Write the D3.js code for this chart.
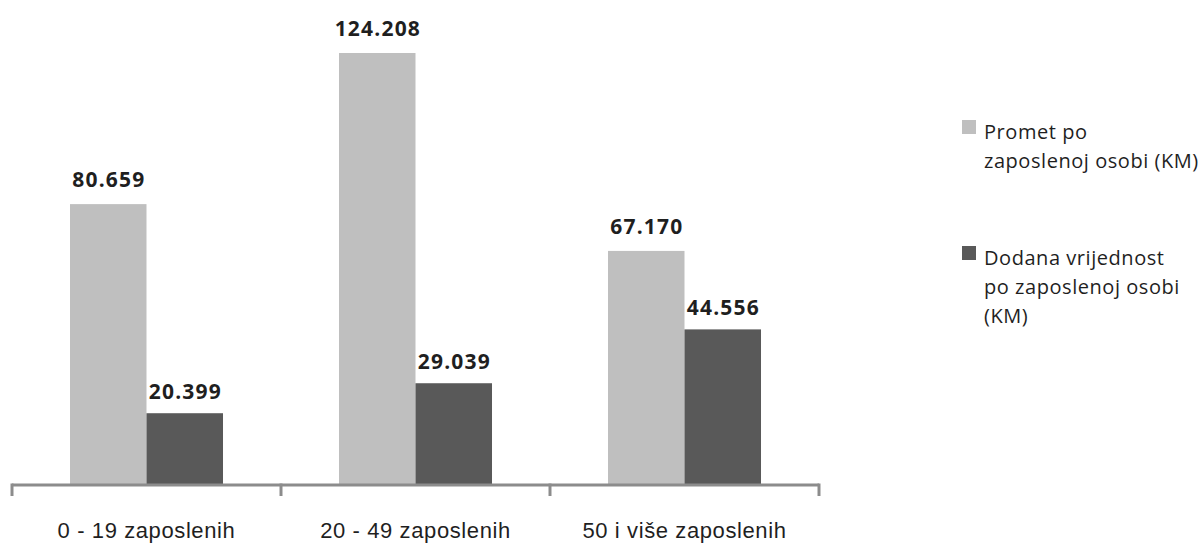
<!DOCTYPE html>
<html>
<head>
<meta charset="utf-8">
<script src="https://cdn.jsdelivr.net/npm/d3@7/dist/d3.min.js"></script>
<style>
  html, body { margin: 0; padding: 0; background: #ffffff; }
  svg { display: block; font-family: "Open Sans", sans-serif; }
</style>
</head>
<body>
<svg id="chart" width="1201" height="543"></svg>
<script>
const categories = ["0 - 19 zaposlenih", "20 - 49 zaposlenih", "50 i više zaposlenih"];
const seriesNames = ["Promet po zaposlenoj osobi (KM)", "Dodana vrijednost po zaposlenoj osobi (KM)"];
const legendLines = [["Promet po", "zaposlenoj osobi (KM)"], ["Dodana vrijednost", "po zaposlenoj osobi", "(KM)"]];
const promet = [80659, 124208, 67170];
const dodana = [20399, 29039, 44556];
const seriesColors = ["#bfbfbf", "#595959"];

const svg = d3.select("#chart");
const fmt = v => d3.format(",")(v).replace(/,/g, ".");

const x0 = d3.scaleBand().domain(categories).range([12, 819]).paddingInner(0).paddingOuter(0);
const bw = x0.bandwidth();
const x1 = d3.scaleBand().domain([0, 1]).range([bw * 0.2156, bw * 0.7844]).padding(0);
const y = d3.scaleLinear().domain([0, 140000]).range([484, 484 - 140 * 3.47]);

const data = categories.map((c, i) => ({ cat: c, vals: [promet[i], dodana[i]] }));

const groups = svg.append("g").selectAll("g").data(data).join("g")
  .attr("transform", d => `translate(${x0(d.cat)},0)`);

groups.selectAll("rect").data(d => d.vals.map((v, s) => ({ v, s }))).join("rect")
  .attr("x", d => x1(d.s))
  .attr("width", x1.bandwidth())
  .attr("y", d => y(d.v))
  .attr("height", d => y(0) - y(d.v))
  .attr("fill", d => seriesColors[d.s]);

groups.selectAll("text.val").data(d => d.vals.map((v, s) => ({ v, s }))).join("text")
  .attr("class", "val")
  .attr("x", d => x1(d.s) + x1.bandwidth() / 2 + 0.6)
  .attr("y", d => y(d.v) - (d.s === 0 ? 17 : 14))
  .attr("text-anchor", "middle")
  .attr("font-size", 21)
  .attr("font-weight", 700)
  .attr("letter-spacing", 1.2)
  .attr("fill", "#1f1f1f")
  .text(d => fmt(d.v));

// axis
const axis = d3.axisBottom(x0).tickSize(0).tickFormat("");
const ax = svg.append("g").attr("transform", "translate(0,485)").call(axis);
ax.select(".domain").remove();
ax.selectAll(".tick").remove();
const tickXs = categories.map(c => x0(c)).concat([x0.range()[1]]);
ax.append("line").attr("x1", x0.range()[0]).attr("x2", x0.range()[1]).attr("y1", 0).attr("y2", 0)
  .attr("stroke", "#8c8c8c").attr("stroke-width", 3);
ax.selectAll("line.tk").data(tickXs).join("line").attr("class", "tk")
  .attr("x1", d => d).attr("x2", d => d).attr("y1", -1.5).attr("y2", 11)
  .attr("stroke", "#8c8c8c").attr("stroke-width", 3);
ax.selectAll("text.cat").data(categories).join("text").attr("class", "cat")
  .attr("x", d => x0(d) + x0.bandwidth() / 2)
  .attr("y", 53)
  .attr("text-anchor", "middle")
  .attr("font-size", 22)
  .attr("letter-spacing", 0.6)
  .attr("fill", "#1f1f1f")
  .text(d => d);

// legend
const legend = svg.append("g");
const legendTops = [120, 246];
seriesNames.forEach((name, s) => {
  const g = legend.append("g").attr("transform", `translate(962,${legendTops[s]})`);
  g.append("rect").attr("width", 14).attr("height", 14).attr("fill", seriesColors[s]);
  const t = g.append("text").attr("x", 22).attr("y", 19).attr("font-size", 20)
    .attr("letter-spacing", 0.55).attr("fill", "#1f1f1f");
  legendLines[s].forEach((ln, i) => {
    t.append("tspan").attr("x", 22).attr("y", 19 + i * 29).text(ln);
  });
});
</script>
</body>
</html>
